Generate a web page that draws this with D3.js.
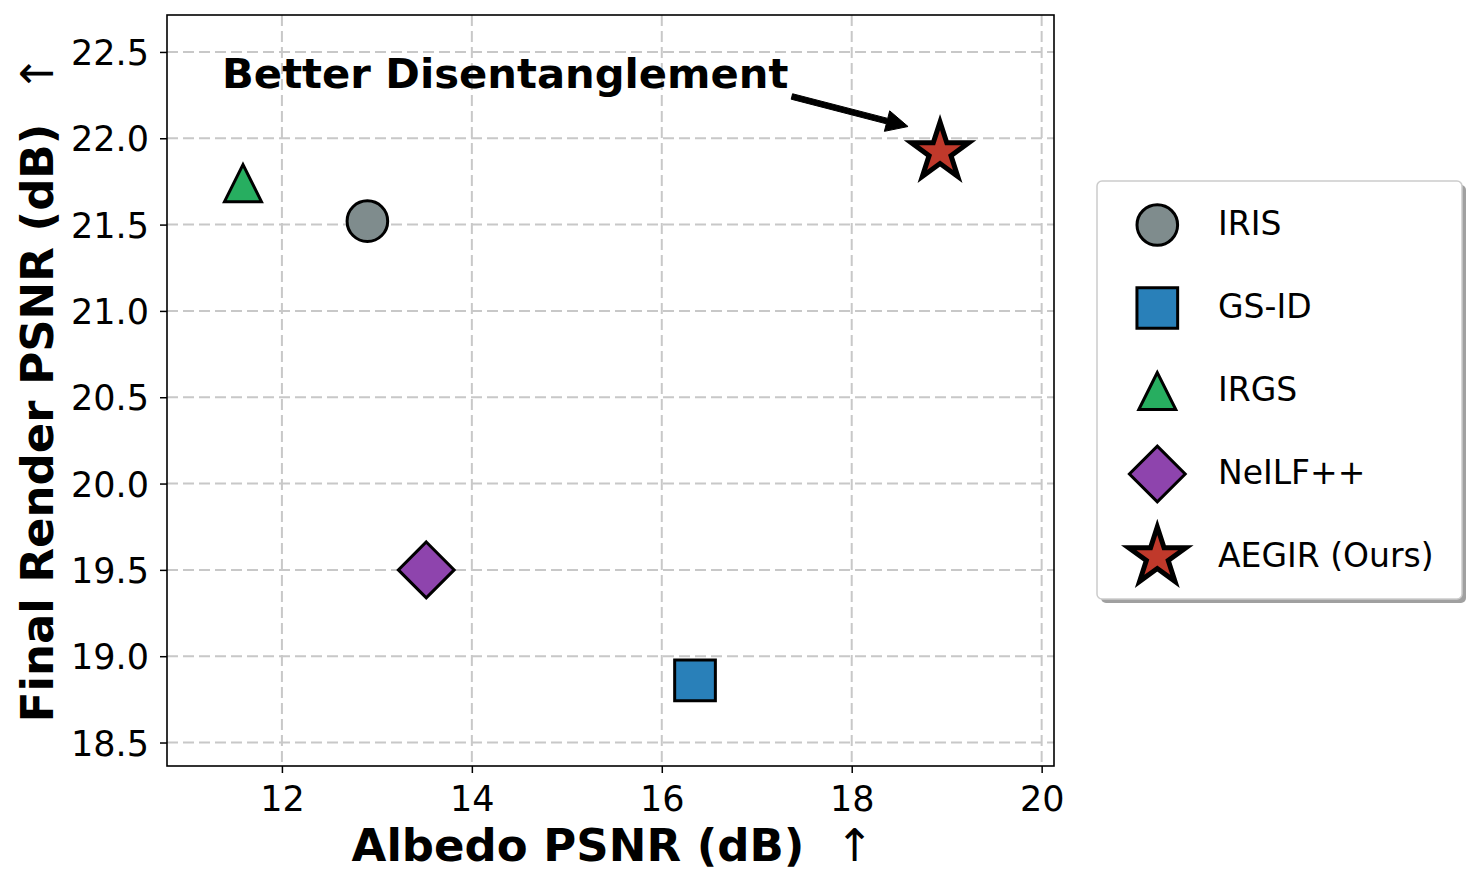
<!DOCTYPE html>
<html>
<head>
<meta charset="utf-8">
<script src="https://cdn.jsdelivr.net/npm/d3@7/dist/d3.min.js"></script>
<style>
  html, body { margin: 0; padding: 0; background: #fff; }
  svg { display: block; font-family: "DejaVu Sans", sans-serif; }
</style>
</head>
<body>
<svg id="chart" width="1476" height="885"></svg>
<script>
// ---- data ----
const methods = ["IRIS", "GS-ID", "IRGS", "NeILF++", "AEGIR (Ours)"];
const albedoPSNR = [12.90, 16.35, 11.59, 13.52, 18.93];
const renderPSNR = [21.52, 18.86, 21.74, 19.50, 21.92];
const markerShapes = ["circle", "square", "triangle", "diamond", "star"];
const markerColors = ["#7f8c8d", "#2980b9", "#27ae60", "#8e44ad", "#c0392b"];
const xTicks = [12, 14, 16, 18, 20];
const yTicks = [18.5, 19.0, 19.5, 20.0, 20.5, 21.0, 21.5, 22.0, 22.5];
const xDomain = [10.79, 20.13];
const yDomain = [18.364, 22.714];
const xLabel = "Albedo PSNR (dB)";
const yLabel = "Final Render PSNR (dB)";
const annotationText = "Better Disentanglement";
const annotationTextPos = [11.37, 22.294];   // data coords (text start, baseline)
const annotationArrowFrom = [17.37, 22.242]; // data coords
const annotationArrowTo = [18.593, 22.068];  // data coords

// ---- layout ----
const svg = d3.select("#chart");
const plot = { left: 167, right: 1054, top: 15, bottom: 766 };
const x = d3.scaleLinear().domain(xDomain).range([plot.left, plot.right]);
const y = d3.scaleLinear().domain(yDomain).range([plot.bottom, plot.top]);

// marker path generators (px geometry)
function markerPath(shape) {
  const p = d3.path();
  if (shape === "circle") {
    const r = 20.3; p.arc(0, 0, r, 0, 2 * Math.PI); p.closePath();
  } else if (shape === "square") {
    const h = 20.35; p.rect(-h, -h, 2 * h, 2 * h);
  } else if (shape === "triangle") {
    const h = 18.5; p.moveTo(0, -h); p.lineTo(-h, h); p.lineTo(h, h); p.closePath();
  } else if (shape === "diamond") {
    const d = 27.9; p.moveTo(0, -d); p.lineTo(d, 0); p.lineTo(0, d); p.lineTo(-d, 0); p.closePath();
  } else if (shape === "star") {
    const R = 30.1, r = R * 0.381966;
    for (let k = 0; k < 10; k++) {
      const rad = k % 2 === 0 ? R : r;
      const a = (-90 + k * 36) * Math.PI / 180;
      const px = rad * Math.cos(a), py = rad * Math.sin(a);
      if (k === 0) p.moveTo(px, py); else p.lineTo(px, py);
    }
    p.closePath();
  }
  return p.toString();
}
const strokeW = s => s === "star" ? 5 : 3;

// ---- grid ----
const grid = svg.append("g");
grid.selectAll("line.gx").data(xTicks).join("line")
  .attr("x1", d => x(d)).attr("x2", d => x(d))
  .attr("y1", plot.top).attr("y2", plot.bottom)
  .attr("stroke", "#c8c8c8").attr("stroke-width", 2).attr("stroke-dasharray", "11,5");
grid.selectAll("line.gy").data(yTicks).join("line")
  .attr("y1", d => y(d)).attr("y2", d => y(d))
  .attr("x1", plot.left).attr("x2", plot.right)
  .attr("stroke", "#c8c8c8").attr("stroke-width", 2).attr("stroke-dasharray", "11,5");

// ---- axes ----
const xAxis = svg.append("g").attr("transform", `translate(0,${plot.bottom})`)
  .call(d3.axisBottom(x).tickValues(xTicks).tickFormat(d3.format("d")).tickSize(7).tickPadding(11));
const yAxis = svg.append("g").attr("transform", `translate(${plot.left},0)`)
  .call(d3.axisLeft(y).tickValues(yTicks).tickFormat(d3.format(".1f")).tickSize(7).tickPadding(11));
[xAxis, yAxis].forEach(g => {
  g.select(".domain").remove();
  g.selectAll(".tick line").attr("stroke", "#000").attr("stroke-width", 1.5);
  g.selectAll(".tick text").attr("fill", "#000").attr("font-size", 35)
    .attr("font-family", "DejaVu Sans");
});
xAxis.selectAll(".tick text").attr("dy", "0.76em");
yAxis.selectAll(".tick text").attr("dy", "0.36em");

// frame
svg.append("rect").attr("x", plot.left).attr("y", plot.top)
  .attr("width", plot.right - plot.left).attr("height", plot.bottom - plot.top)
  .attr("fill", "none").attr("stroke", "#000").attr("stroke-width", 1.6);

// axis labels
const xl = svg.append("text").attr("x", (plot.left + plot.right) / 2 + 2).attr("y", 861)
  .attr("text-anchor", "middle").attr("font-size", 45).attr("font-weight", "bold")
  .style("white-space", "pre");
xl.append("tspan").text(xLabel + "  ");
xl.append("tspan").attr("font-weight", "normal").text("↑");

const yl = svg.append("text")
  .attr("transform", `translate(53,${(plot.top + plot.bottom) / 2 - 2}) rotate(-90)`)
  .attr("text-anchor", "middle").attr("font-size", 45).attr("font-weight", "bold")
  .style("white-space", "pre");
yl.append("tspan").text(yLabel + "  ");
yl.append("tspan").attr("font-weight", "normal").text("↑");

// ---- points ----
const pts = methods.map((m, i) => ({ m, x: albedoPSNR[i], y: renderPSNR[i], shape: markerShapes[i], color: markerColors[i] }));
svg.append("g").selectAll("path").data(pts).join("path")
  .attr("transform", d => `translate(${x(d.x)},${y(d.y)})`)
  .attr("d", d => markerPath(d.shape))
  .attr("fill", d => d.color).attr("stroke", "#000")
  .attr("stroke-width", d => strokeW(d.shape)).attr("stroke-linejoin", "miter");

// ---- annotation ----
svg.append("text").attr("x", x(annotationTextPos[0])).attr("y", y(annotationTextPos[1]))
  .attr("font-size", 41.7).attr("font-weight", "bold").attr("fill", "#000").text(annotationText);
(function () {
  const x0 = x(annotationArrowFrom[0]), y0 = y(annotationArrowFrom[1]);
  const x1 = x(annotationArrowTo[0]), y1 = y(annotationArrowTo[1]);
  const dx = x1 - x0, dy = y1 - y0, L = Math.hypot(dx, dy);
  const ux = dx / L, uy = dy / L, nx = -uy, ny = ux;
  const sw = 2.8, hw = 10.6, hl = 21.7;
  const bx = x1 - ux * hl, by = y1 - uy * hl;
  const poly = [
    [x0 + nx * sw, y0 + ny * sw], [bx + nx * sw, by + ny * sw], [bx + nx * hw, by + ny * hw],
    [x1, y1], [bx - nx * hw, by - ny * hw], [bx - nx * sw, by - ny * sw], [x0 - nx * sw, y0 - ny * sw]
  ];
  svg.append("polygon").attr("points", poly.map(p => p.join(",")).join(" "))
    .attr("fill", "#000").attr("stroke", "#000").attr("stroke-width", 1);
})();

// ---- legend ----
const lg = svg.append("g");
const lx = 1097, ly = 181, lw = 365, lh = 418;
lg.append("rect").attr("x", lx + 4).attr("y", ly + 4).attr("width", lw).attr("height", lh)
  .attr("rx", 5).attr("fill", "#a0a0a0");
lg.append("rect").attr("x", lx).attr("y", ly).attr("width", lw).attr("height", lh)
  .attr("rx", 5).attr("fill", "#fff").attr("stroke", "#cccccc").attr("stroke-width", 1.5);
const rowY = i => 225 + i * 83;
lg.selectAll("path").data(pts).join("path")
  .attr("transform", (d, i) => `translate(1157.3,${rowY(i)})`)
  .attr("d", d => markerPath(d.shape))
  .attr("fill", d => d.color).attr("stroke", "#000")
  .attr("stroke-width", d => strokeW(d.shape)).attr("stroke-linejoin", "miter");
lg.selectAll("text").data(pts).join("text")
  .attr("x", 1218).attr("y", (d, i) => rowY(i) + 10)
  .attr("font-size", 33).attr("fill", "#000").text(d => d.m);
</script>
</body>
</html>
